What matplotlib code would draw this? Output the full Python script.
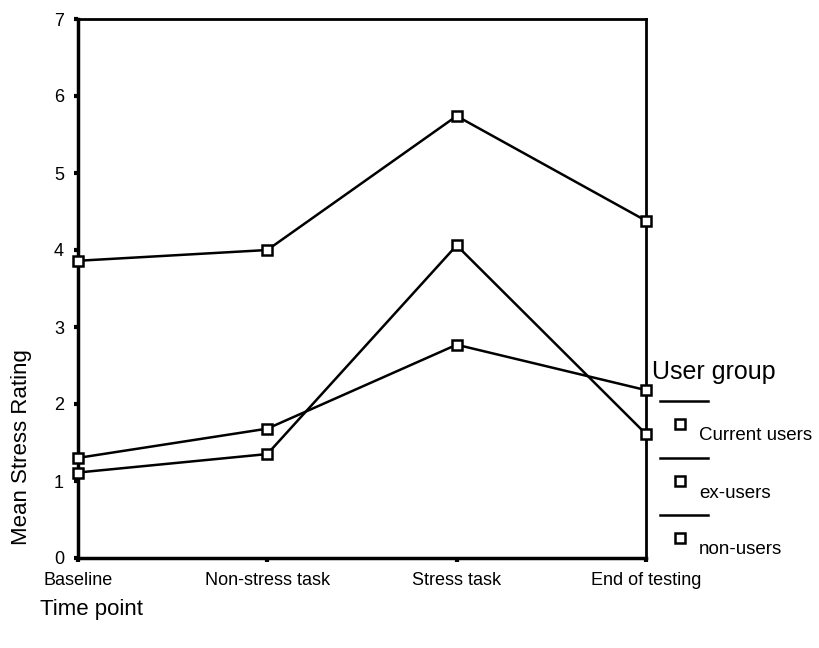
import matplotlib
matplotlib.use("Agg")
import matplotlib.pyplot as plt
from matplotlib.lines import Line2D

plt.rcParams['font.family'] = ['Liberation Sans', 'DejaVu Sans']

# podaci
vremena = ["Baseline", "Non-stress task", "Stress task", "End of testing"]
grupe = ["Current users", "ex-users", "non-users"]
current_users = [3.86, 4.00, 5.74, 4.38]
ex_users = [1.11, 1.35, 4.06, 1.61]
non_users = [1.30, 1.68, 2.77, 2.18]
y_ticks = [0, 1, 2, 3, 4, 5, 6, 7]

W, H = 820, 648
fig = plt.figure(figsize=(W / 100, H / 100), dpi=100)
ax = fig.add_axes([78 / W, 1 - 558 / H, (646 - 78) / W, (558 - 19) / H])

x = list(range(len(vremena)))
for serija in [current_users, ex_users, non_users]:
    ax.plot(x, serija, color="black", lw=1.8, marker="s", ms=7.5,
            mfc="white", mec="black", mew=1.8, clip_on=False, zorder=3)

ax.set_xlim(0, 3)
ax.set_ylim(0, 7)
ax.set_xticks(x)
ax.set_xticklabels(vremena, fontsize=13)
ax.set_yticks(y_ticks)
ax.set_yticklabels([str(v) for v in y_ticks], fontsize=13)
ax.tick_params(axis="both", direction="out", length=3, width=3, pad=7)
ax.spines["left"].set_linewidth(2.5)
ax.spines["bottom"].set_linewidth(2.5)
ax.spines["top"].set_linewidth(2)
ax.spines["right"].set_linewidth(2)

fig.text(22 / W, 1 - 447 / H, "Mean Stress Rating", fontsize=16,
         rotation=90, ha="center", va="center")
fig.text(40 / W, 1 - 610 / H, "Time point", fontsize=16, ha="left", va="center")

# legenda
fig.text(652 / W, 1 - 372 / H, "User group", fontsize=18, ha="left", va="center")
for i, ime in enumerate(grupe):
    yl = 1 - (401 + i * 57) / H
    fig.add_artist(Line2D([660 / W, 708 / W], [yl, yl], color="black", lw=1.8))
    ym = 1 - (424 + i * 57) / H
    fig.add_artist(Line2D([680 / W], [ym], marker="s", ms=6.5, mfc="white",
                          mec="black", mew=1.8, ls="none"))
    fig.text(699 / W, 1 - (436 + i * 57) / H, ime, fontsize=13.5,
             ha="left", va="center")

fig.savefig("out.png", dpi=100)
